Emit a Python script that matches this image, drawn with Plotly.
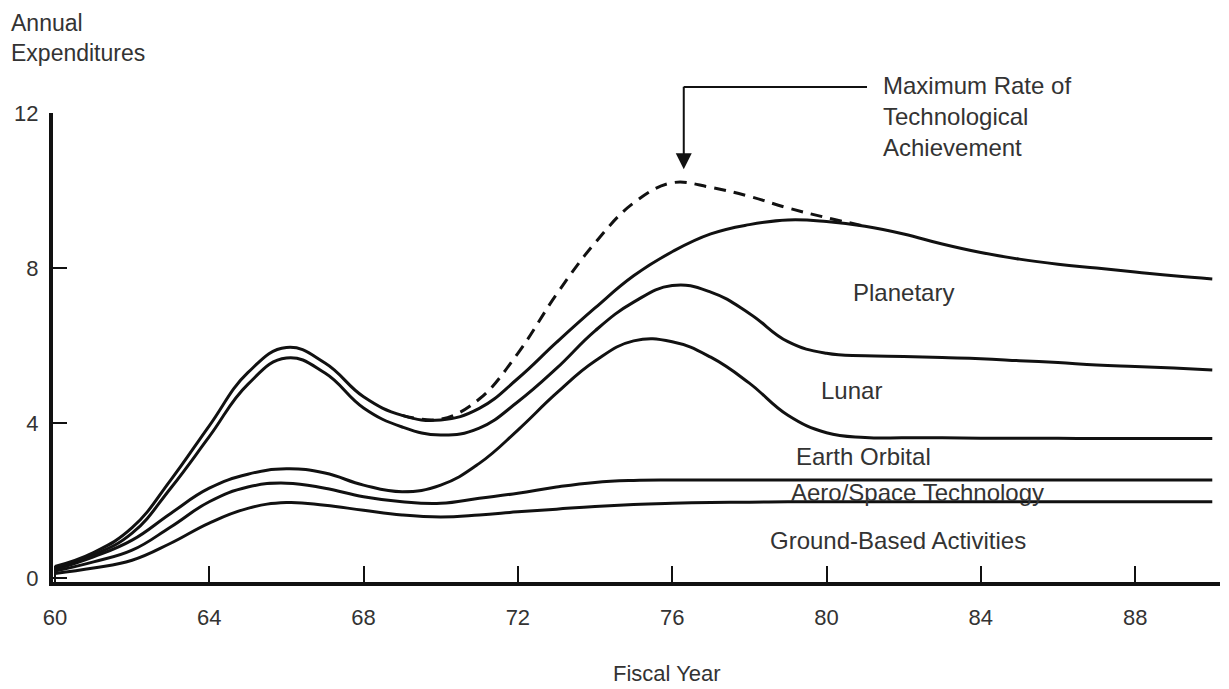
import plotly.graph_objects as go

# fiscal years and the cumulative (stacked) top edge of each program band
years = list(range(60, 91))

ground_based = [0.12, 0.26, 0.46, 0.90, 1.42, 1.80, 1.95, 1.88, 1.75, 1.63, 1.58,
                1.63, 1.71, 1.78, 1.85, 1.90, 1.93, 1.95, 1.96, 1.97, 1.97,
                1.97, 1.97, 1.97, 1.97, 1.97, 1.97, 1.97, 1.97, 1.97, 1.97]
aero_space = [0.18, 0.42, 0.72, 1.32, 1.97, 2.35, 2.45, 2.32, 2.10, 1.97, 1.93,
              2.06, 2.19, 2.35, 2.47, 2.52, 2.53, 2.53, 2.53, 2.53, 2.53,
              2.53, 2.53, 2.53, 2.53, 2.53, 2.53, 2.53, 2.53, 2.53, 2.53]
earth_orbital = [0.22, 0.55, 0.98, 1.67, 2.32, 2.68, 2.82, 2.71, 2.40, 2.23, 2.40,
                 2.96, 3.82, 4.77, 5.60, 6.12, 6.10, 5.70, 5.03, 4.20, 3.75,
                 3.63, 3.62, 3.62, 3.61, 3.61, 3.61, 3.60, 3.60, 3.60, 3.60]
lunar = [0.28, 0.60, 1.16, 2.32, 3.65, 5.00, 5.68, 5.29, 4.39, 3.90, 3.69,
         3.87, 4.55, 5.41, 6.38, 7.12, 7.55, 7.38, 6.83, 6.10, 5.80,
         5.74, 5.72, 5.69, 5.66, 5.61, 5.56, 5.50, 5.46, 5.42, 5.37]
planetary = [0.30, 0.66, 1.30, 2.53, 3.93, 5.30, 5.95, 5.55, 4.68, 4.20, 4.08,
             4.38, 5.15, 6.08, 6.97, 7.80, 8.42, 8.88, 9.12, 9.24, 9.20,
             9.08, 8.88, 8.62, 8.40, 8.23, 8.10, 8.00, 7.90, 7.80, 7.72]

# dashed envelope
max_rate_years = [69, 70, 71, 72, 73, 74, 75, 76, 77, 78, 79, 80, 81]
max_rate = [4.20, 4.10, 4.62, 5.80, 7.32, 8.65, 9.68, 10.20, 10.08, 9.85, 9.55, 9.30, 9.08]

x_ticks = [60, 64, 68, 72, 76, 80, 84, 88]
y_ticks = [0, 4, 8, 12]

band_labels = ["Planetary", "Lunar", "Earth Orbital", "Aero/Space Technology", "Ground-Based Activities"]
label_x = [82.0, 80.65, 80.95, 82.35, 81.85]
label_y = [7.36, 4.85, 3.15, 2.22, 0.98]

FONT = "Liberation Sans, Arial, sans-serif"
TXT = "#333333"

fig = go.Figure()
for ys in [ground_based, aero_space, earth_orbital, lunar, planetary]:
    fig.add_trace(go.Scatter(x=years, y=ys, mode="lines",
                             line=dict(color="#111111", width=3, shape="spline", smoothing=1.25),
                             showlegend=False, hoverinfo="skip"))

fig.add_trace(go.Scatter(x=max_rate_years, y=max_rate, mode="lines",
                         line=dict(color="#111111", width=3, dash="12px,8px", shape="spline", smoothing=1.1),
                         showlegend=False, hoverinfo="skip"))

for t, lx, ly in zip(band_labels, label_x, label_y):
    fig.add_annotation(x=lx, y=ly, text=t, showarrow=False,
                       font=dict(family=FONT, size=24, color=TXT))

# arrow pointing at the peak of the dashed envelope
fig.add_annotation(x=76.3, y=10.55, ax=0, ay=-84, text="", showarrow=True,
                   arrowhead=2, arrowsize=1.6, arrowwidth=2, arrowcolor="#111111")
fig.add_shape(type="line", xref="x", yref="paper", x0=76.3, x1=81.05,
              y0=1.0554, y1=1.0554, line=dict(color="#111111", width=2))
fig.add_annotation(xref="x", yref="paper", x=81.4, y=1.091, xanchor="left", yanchor="top",
                   text="Maximum Rate of<br>Technological<br>Achievement", showarrow=False, align="left",
                   font=dict(family=FONT, size=24, color=TXT))

fig.add_annotation(xref="paper", yref="paper", x=-0.038, y=1.224, xanchor="left", yanchor="top",
                   text="Annual<br>Expenditures", showarrow=False, align="left",
                   font=dict(family=FONT, size=23, color=TXT))
fig.add_annotation(xref="paper", yref="paper", x=0.526, y=-0.226, text="Fiscal Year",
                   showarrow=False, font=dict(family=FONT, size=22, color=TXT))

fig.update_xaxes(range=[59.95, 90.2], tickvals=x_ticks, ticks="inside", ticklen=16, tickwidth=2,
                 tickcolor="#111111", showline=True, linewidth=4, linecolor="#111111",
                 showgrid=False, zeroline=False, ticklabelstandoff=13, automargin=False,
                 tickfont=dict(family=FONT, size=22, color=TXT))
fig.update_yaxes(range=[-0.1, 12.0], tickvals=y_ticks, ticks="inside", ticklen=14, tickwidth=2,
                 tickcolor="#111111", showline=True, linewidth=4, linecolor="#111111",
                 showgrid=False, zeroline=False, ticklabelstandoff=6, automargin=False,
                 tickfont=dict(family=FONT, size=22, color=TXT))

# page body adds an 8px offset, so the figure is 8px smaller and shifted up/left
fig.update_layout(width=1221, height=681, margin=dict(l=45, r=9, t=105, b=107),
                  plot_bgcolor="white", paper_bgcolor="white")

fig.write_html("out.html")
